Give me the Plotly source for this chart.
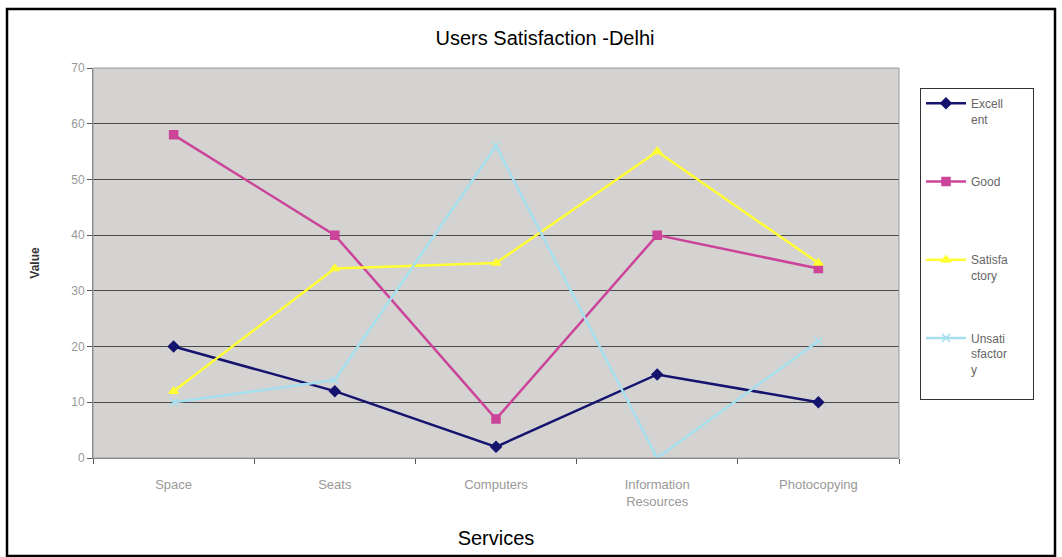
import plotly.graph_objects as go

services = ["Space", "Seats", "Computers", "Information<br>Resources", "Photocopying"]
excellent = [20, 12, 2, 15, 10]
good = [58, 40, 7, 40, 34]
satisfactory = [12, 34, 35, 55, 35]
unsatisfactory = [10, 14, 56, 0, 21]

W, H = 1062, 557
L, R, T, B = 93, 163, 68, 99
pw, ph = W - L - R, H - T - B


def px_x(p):
    return (p - L) / pw


def px_y(p):
    return (H - B - p) / ph


# legend labels wrapped like the original (extra blank line / spaces keep the box size)
pad = "&nbsp;" * 6
series = [
    ("Excell<br>ent", excellent, "#14146e", "diamond", 8),
    ("Good<br>&nbsp;", good, "#cc4499", "square", 8),
    ("Satisfa<br>ctory", satisfactory, "#ffff33", "triangle-up", 8),
    ("Unsati<br>sfactor" + pad + "<br>y<br>&nbsp;", unsatisfactory, "#a6e0ee", "x-thin", 8),
]

fig = go.Figure()
for i, (name, vals, col, sym, sz) in enumerate(series):
    fig.add_trace(go.Scatter(
        x=services, y=vals, name=name, mode="lines+markers",
        line=dict(color=col, width=2.5),
        marker=dict(symbol=sym, size=sz, color=col, line=dict(color=col, width=1.5)),
        legendgroup=str(i),
    ))

fig.update_layout(
    width=W, height=H,
    margin=dict(l=L, r=R, t=T, b=B),
    paper_bgcolor="white",
    plot_bgcolor="#d5d2d2",
    font=dict(family="Arial, Liberation Sans, sans-serif", color="#888888", size=12),
    title=dict(text="Users Satisfaction -Delhi", x=px_x(545), xref="paper", xanchor="center",
               y=1 - 38 / H, yanchor="middle",
               font=dict(size=20, color="black")),
    showlegend=True,
    legend=dict(
        x=px_x(920), y=px_y(88), xanchor="left", yanchor="top",
        bordercolor="#333333", borderwidth=1, bgcolor="white",
        font=dict(size=12, color="#666666"),
        tracegroupgap=44, itemwidth=40, valign="top",
    ),
    xaxis=dict(
        range=[-0.5, 4.5],
        showgrid=False, ticks="outside", tickson="boundaries", ticklen=5,
        tickcolor="#555555", showline=True, linecolor="#777777", linewidth=1,
        tickfont=dict(size=13, color="#999999"), ticklabelstandoff=14,
        title=dict(text="Services", font=dict(size=20, color="black"), standoff=23),
    ),
    yaxis=dict(
        range=[0, 70], dtick=10, showgrid=True, gridcolor="#4a4a4a", gridwidth=1,
        ticks="outside", ticklen=5, tickcolor="#555555",
        showline=True, linecolor="#777777", zeroline=False,
        tickfont=dict(size=12, color="#999999"),
        title=dict(text="<b>Value</b>", font=dict(size=12, color="#333333"), standoff=29),
    ),
    shapes=[
        dict(type="rect", xref="paper", yref="paper",
             x0=px_x(7), x1=px_x(1055), y0=px_y(556), y1=px_y(9),
             line=dict(color="black", width=2.5), layer="below"),
        dict(type="rect", xref="paper", yref="paper",
             x0=0, x1=1, y0=0, y1=1, line=dict(color="#999999", width=1)),
    ],
)

fig.write_html("out.html", config={"displayModeBar": False},
               post_script="document.body.style.margin='0px';")
